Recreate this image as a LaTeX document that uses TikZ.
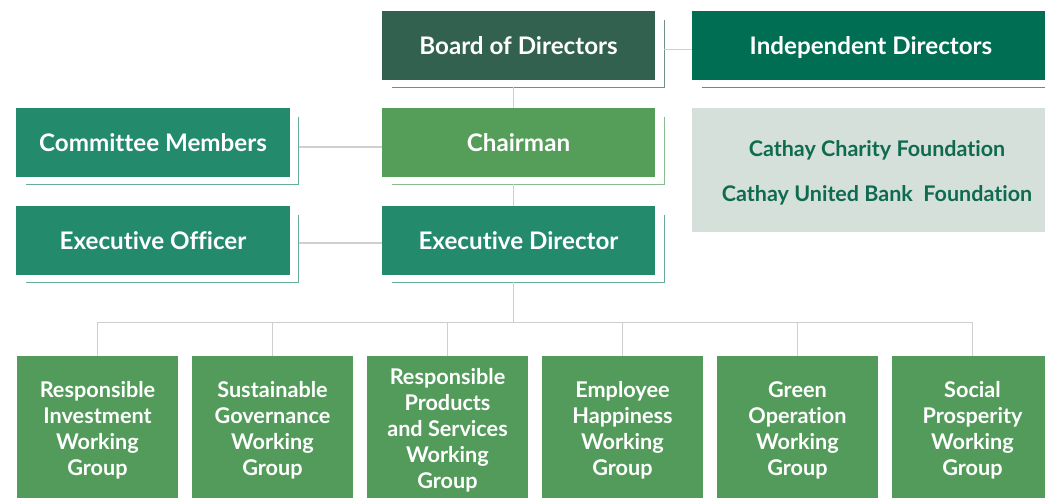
\documentclass[tikz,border=0pt]{standalone}
\usepackage{fontspec}
\setmainfont{Lato}[Ligatures=NoCommon]
\usepackage{xcolor}
\usetikzlibrary{positioning, calc}

\definecolor{boardgreen}{HTML}{33614F}
\definecolor{indepgreen}{HTML}{006E52}
\definecolor{execgreen}{HTML}{238A6C}
\definecolor{chairgreen}{HTML}{559E5A}
\definecolor{groupgreen}{HTML}{539B5A}
\definecolor{foundbg}{HTML}{D5E0DA}
\definecolor{foundtext}{HTML}{0F6B50}
\definecolor{linegray}{HTML}{CFCFCF}

\begin{document}
\begin{tikzpicture}[x=0.025cm, y=-0.025cm,
  topbox/.style={text=white, font=\bfseries\fontsize{17.2}{20}\selectfont,
    text height=16pt, text depth=3.4pt,
    minimum width=6.825cm, minimum height=1.725cm, inner sep=0pt},
  groupbox/.style={fill=groupgreen, text=white, align=center,
    font=\bfseries\fontsize{15.4}{18.5}\selectfont,
    minimum width=4.025cm, minimum height=3.7cm, inner sep=0pt},
  foundation/.style={text=foundtext, font=\bfseries\fontsize{15.3}{18}\selectfont},
  link/.style={draw=linegray, line width=1pt}]
\useasboundingbox (0,0) rectangle (1045,498);
\clip (0,0) rectangle (1045,498);

% Board row
\node[topbox, fill=boardgreen] (board) at (518.5,45.5) {Board of Directors};
\node[topbox, fill=indepgreen, minimum width=8.95cm] (indep) at (871,45.5) {Independent Directors};

% Chairman row
\node[topbox, fill=execgreen] (committee) at (153,142.5) {Committee Members};
\node[topbox, fill=chairgreen] (chair) at (518.5,142.5) {Chairman};

% Executive row
\node[topbox, fill=execgreen] (officer) at (153,240.5) {Executive Officer};
\node[topbox, fill=execgreen] (director) at (518.5,240.5) {Executive Director};

% Foundations
\node[fill=foundbg, minimum width=8.95cm, minimum height=3.1cm] (found) at (871,170) {};
\node[foundation] (charity) at (877,150) {Cathay Charity Foundation};
\node[foundation] (unitedbank) at (877,195) {Cathay United Bank\ \ Foundation};

% offset lines under the boxes
\foreach \n/\c in {board/boardgreen, indep/indepgreen, committee/execgreen,
                   chair/chairgreen, officer/execgreen, director/execgreen} {
  \draw[\c!70, line width=0.9pt] ($(\n.north east)+(9,9)$) -- ($(\n.south east)+(9,7)$)
    -- ($(\n.south west)+(10,7)$);
}

% Working groups
\foreach \i/\txt in {1/{Responsible\\Investment\\Working\\Group},
                     2/{Sustainable\\Governance\\Working\\Group},
                     3/{Responsible\\Products\\and Services\\Working\\Group},
                     4/{Employee\\Happiness\\Working\\Group},
                     5/{Green\\Operation\\Working\\Group},
                     6/{Social\\Prosperity\\Working\\Group}} {
  \node[groupbox] (g\i) at ({97.5+175*(\i-1)},430) {\txt};
}

% Connectors
\draw[link] ($(board.east)+(9,4)$) -- ($(indep.west)+(0,4)$);
\draw[link] ($(committee.east)+(9,4.5)$) -- ($(chair.west)+(0,4.5)$);
\draw[link] ($(officer.east)+(9,2.5)$) -- ($(director.west)+(0,2.5)$);
\draw[link] ($(board.south)+(-5,7)$) -- ($(chair.north)+(-5,0)$);
\draw[link] ($(chair.south)+(-5,7)$) -- ($(director.north)+(-5,0)$);
\coordinate (bus) at ($(director.south)+(-5,47)$);
\draw[link] ($(director.south)+(-5,7)$) -- (bus);
\draw[link] (g1.north |- bus) -- (g6.north |- bus);
\foreach \i in {1,...,6} {
  \draw[link] (g\i.north |- bus) -- (g\i.north);
}
\end{tikzpicture}
\end{document}
